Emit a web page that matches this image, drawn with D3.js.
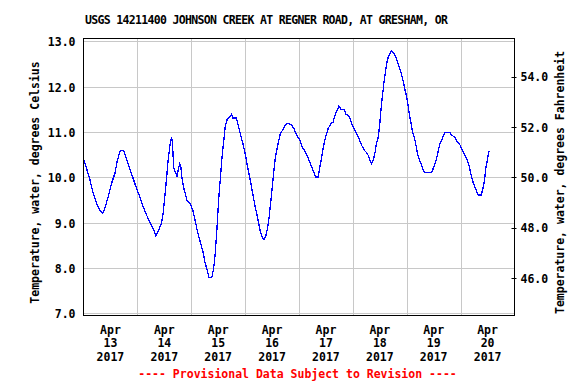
<!DOCTYPE html>
<html lang="en">
<head>
<meta charset="UTF-8">
<title>USGS 14211400 Johnson Creek water temperature</title>
<script src="https://d3js.org/d3.v7.min.js"></script>
<style>
  body { margin: 0; background: #fff; }
  svg text { font-family: "DejaVu Sans Mono", monospace; font-weight: bold; font-size: 11.5px; fill: #000; }
</style>
</head>
<body>
<svg width="582" height="387"></svg>
<script>
// hours since 2017-04-13 00:00 and water temperature (deg C)
const hours = [0, 1.35, 2.8, 4.3, 5.8, 7.0, 8.5, 9.5, 11.0, 12.5, 14.0, 15.1, 16.2, 16.9, 18.0, 19.2, 20.6, 22.1, 23.6,
  25.1, 26.6, 28.1, 29.5, 31.0, 32.2, 33.3, 34.7, 35.5, 36.2, 37.0, 37.7, 38.5, 39.2, 39.6, 40.2, 41.1, 41.6, 42.3,
  42.9, 43.4, 43.9, 44.7, 46.2, 47.5, 48.7, 49.7, 50.8, 52.0, 53.2, 54.2, 55.3, 55.9, 57.2, 58.0, 58.7, 59.5, 60.2,
  61.0, 61.7, 62.5, 63.2, 64.0, 65.2, 65.9, 66.6, 68.1, 69.1, 69.8, 71.0, 72.0, 73.1, 74.3, 75.5, 76.5, 77.6, 78.8,
  79.6, 80.4, 81.1, 82.0, 82.7, 83.5, 84.4, 85.4, 86.5, 87.7, 88.9, 89.9, 91.0, 92.5, 93.7, 95.3, 96.4, 97.4, 98.6,
  99.8, 100.8, 101.9, 102.8, 103.3, 104.5, 105.2, 106.0, 106.7, 107.8, 109.0, 110.2, 111.2, 112.0, 113.0, 113.8,
  114.7, 116.1, 116.9, 117.9, 118.7, 119.4, 120.6, 121.6, 122.7, 123.9, 125.1, 126.1, 126.8, 127.6, 128.3, 129.1,
  129.8, 130.5, 131.3, 132.0, 132.5, 133.1, 133.8, 134.6, 135.2, 135.8, 136.5, 137.3, 138.2, 139.1, 140.2, 141.4,
  142.5, 143.1, 144.0, 145.5, 146.7, 147.7, 148.5, 149.2, 150.3, 151.1, 151.9, 155.1, 155.8, 156.6, 157.3, 158.1,
  158.8, 159.6, 160.3, 161.1, 163.3, 164.0, 165.5, 166.6, 167.8, 168.5, 169.6, 170.7, 171.5, 172.2, 173.0, 173.7,
  174.4, 175.2, 175.9, 177.1, 177.8, 178.4, 178.9, 179.3, 179.9, 180.3, 180.8];
const tempC = [10.42, 10.20, 9.96, 9.65, 9.43, 9.30, 9.21, 9.32, 9.57, 9.87, 10.09, 10.38, 10.56, 10.60, 10.58, 10.40,
  10.20, 9.98, 9.76, 9.57, 9.35, 9.17, 9.02, 8.88, 8.71, 8.82, 8.99, 9.21, 9.57, 9.98, 10.38, 10.71, 10.89, 10.78,
  10.20, 10.10, 10.01, 10.20, 10.31, 10.22, 9.98, 9.76, 9.48, 9.42, 9.28, 9.06, 8.80, 8.58, 8.36, 8.11, 7.92, 7.80,
  7.80, 8.00, 8.33, 8.91, 9.50, 10.01, 10.45, 10.82, 11.15, 11.28, 11.35, 11.39, 11.31, 11.31, 11.11, 10.97, 10.75,
  10.53, 10.23, 9.94, 9.61, 9.35, 9.10, 8.80, 8.68, 8.62, 8.69, 8.88, 9.13, 9.50, 9.94, 10.42, 10.71, 10.97, 11.06,
  11.17, 11.19, 11.17, 11.08, 10.91, 10.82, 10.67, 10.59, 10.47, 10.34, 10.20, 10.09, 10.01, 10.01, 10.20, 10.42,
  10.64, 10.89, 11.08, 11.19, 11.22, 11.37, 11.48, 11.58, 11.50, 11.50, 11.39, 11.37, 11.30, 11.19, 11.08, 10.98,
  10.86, 10.71, 10.60, 10.55, 10.49, 10.38, 10.31, 10.38, 10.53, 10.75, 10.89, 11.19, 11.48, 11.77, 12.07, 12.36,
  12.54, 12.67, 12.74, 12.79, 12.74, 12.67, 12.51, 12.32, 12.10, 11.96, 11.77, 11.30, 10.98, 10.82, 10.60, 10.45,
  10.31, 10.20, 10.11, 10.11, 10.20, 10.31, 10.42, 10.60, 10.75, 10.82, 10.93, 10.99, 10.99, 10.93, 10.89, 10.78,
  10.71, 10.62, 10.53, 10.42, 10.31, 10.16, 9.98, 9.87, 9.79, 9.68, 9.61, 9.61, 9.72, 9.87, 10.05, 10.23, 10.38,
  10.51, 10.59];

const celsiusTicks = [7, 8, 9, 10, 11, 12, 13];
const fahrenheitTicks = [46, 48, 50, 52, 54];
const dayLabels = ["13", "14", "15", "16", "17", "18", "19", "20"];

const start = new Date(2017, 3, 13);
const end = new Date(2017, 3, 21);
const data = hours.map((h, i) => ({ t: new Date(start.getTime() + h * 3600e3), v: tempC[i] }));

const plotL = 83.5, plotR = 514.5, plotT = 38.5, plotB = 315.5;

const x = d3.scaleTime().domain([start, end]).range([plotL, plotR]);
const y = d3.scaleLinear().domain([6.954, 13.066]).range([plotB, plotT]);
const yF = d3.scaleLinear().domain([6.954 * 1.8 + 32, 13.066 * 1.8 + 32]).range([plotB, plotT]);

const svg = d3.select("svg");

// title
svg.append("text")
    .attr("x", 266.5).attr("y", 24)
    .attr("text-anchor", "middle")
    .attr("textLength", 363).attr("lengthAdjust", "spacing")
    .text("USGS 14211400 JOHNSON CREEK AT REGNER ROAD, AT GRESHAM, OR");

// grid
const midnights = d3.timeDay.range(d3.timeDay.offset(start, 1), end);
svg.append("g").selectAll("line")
    .data(midnights)
  .enter().append("line")
    .attr("x1", d => Math.round(x(d)) + 0.5).attr("x2", d => Math.round(x(d)) + 0.5)
    .attr("y1", plotT).attr("y2", plotB)
    .attr("stroke", "#c8c8c8");

svg.append("g").selectAll("line")
    .data(celsiusTicks)
  .enter().append("line")
    .attr("x1", plotL).attr("x2", plotR)
    .attr("y1", d => Math.round(y(d)) + 0.5).attr("y2", d => Math.round(y(d)) + 0.5)
    .attr("stroke", "#c8c8c8");

// temperature line (aliased, like the original gif)
const line = d3.line()
    .x(d => x(d.t))
    .y(d => y(d.v));

svg.append("path")
    .datum(data)
    .attr("d", line)
    .attr("fill", "none")
    .attr("stroke", "#0000ff")
    .attr("stroke-width", 1.3)
    .attr("shape-rendering", "crispEdges");

// frame
svg.append("rect")
    .attr("x", plotL).attr("y", plotT)
    .attr("width", plotR - plotL).attr("height", plotB - plotT)
    .attr("fill", "none").attr("stroke", "#000");

// left axis labels
svg.append("g").selectAll("text")
    .data(celsiusTicks)
  .enter().append("text")
    .attr("x", 75.5).attr("y", d => y(d) + 5)
    .attr("text-anchor", "end")
    .text(d => d3.format(".1f")(d));

// right axis ticks + labels
const rAxis = svg.append("g");
rAxis.selectAll("line")
    .data(fahrenheitTicks)
  .enter().append("line")
    .attr("x1", plotR - 3).attr("x2", plotR + 2)
    .attr("y1", d => Math.round(yF(d)) + 0.5).attr("y2", d => Math.round(yF(d)) + 0.5)
    .attr("stroke", "#000");
rAxis.selectAll("text")
    .data(fahrenheitTicks)
  .enter().append("text")
    .attr("x", 520.5).attr("y", d => yF(d) + 4.5)
    .text(d => d3.format(".1f")(d));

// axis titles
svg.append("text")
    .attr("transform", "translate(39,182.5) rotate(-90)")
    .attr("text-anchor", "middle")
    .text("Temperature, water, degrees Celsius");

svg.append("text")
    .attr("transform", "translate(563.5,182.5) rotate(-90)")
    .attr("text-anchor", "middle")
    .text("Temperature, water, degrees Fahrenheit");

// date labels at noon of each day
const noons = d3.timeDay.range(start, end).map(d => d3.timeHour.offset(d, 12));
const dl = svg.append("g").selectAll("text")
    .data(noons)
  .enter().append("text")
    .attr("text-anchor", "middle");
dl.append("tspan").attr("x", d => x(d)).attr("y", 333.5).text("Apr");
dl.append("tspan").attr("x", d => x(d)).attr("y", 347).text((d, i) => dayLabels[i]);
dl.append("tspan").attr("x", d => x(d)).attr("y", 360.5).text("2017");

// provisional note
svg.append("text")
    .attr("x", 297.5).attr("y", 377.5)
    .attr("text-anchor", "middle")
    .style("fill", "#ff0000")
    .text("---- Provisional Data Subject to Revision ----");
</script>
</body>
</html>
